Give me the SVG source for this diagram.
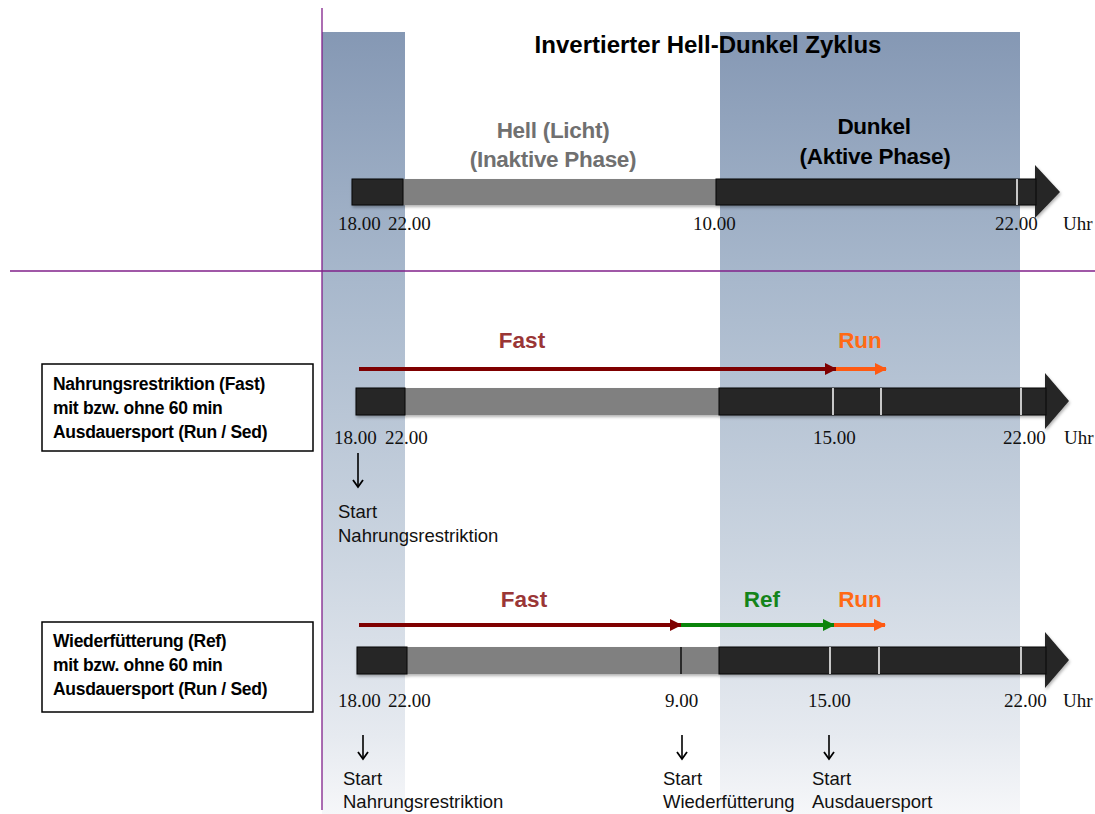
<svg xmlns="http://www.w3.org/2000/svg" width="1095" height="814" viewBox="0 0 1095 814">
<style>
.sans{font-family:"Liberation Sans",Arial,sans-serif}
.b{font-weight:bold}
.time{font-family:"Liberation Serif","Times New Roman",serif;font-size:19px;fill:#111}
.phase{font-family:"Liberation Sans",Arial,sans-serif;font-weight:bold;font-size:22.5px;text-anchor:middle;letter-spacing:-0.3px}
.box{fill:#fff;stroke:#000;stroke-width:1.5}
.boxt{font-family:"Liberation Sans",Arial,sans-serif;font-weight:bold;font-size:17.5px;fill:#000;letter-spacing:-0.3px}
.start{font-family:"Liberation Sans",Arial,sans-serif;font-size:18.5px;fill:#111}
.blk{fill:#262626;stroke:#000;stroke-width:1}
.gry{fill:#808080}
.wt{stroke:#fff;stroke-width:1.5}
.purple{stroke:#80208a;stroke-width:1.3}
.down{stroke:#000;stroke-width:1.6;fill:none;marker-end:url(#mdown)}
.lbl{font-family:"Liberation Sans",Arial,sans-serif;font-weight:bold;font-size:22.5px;text-anchor:middle}
</style>
<defs>
<linearGradient id="band" x1="0" y1="32" x2="0" y2="814" gradientUnits="userSpaceOnUse">
<stop offset="0" stop-color="#8598b4"/>
<stop offset="0.32" stop-color="#a8b8cc"/>
<stop offset="0.65" stop-color="#c9d3df"/>
<stop offset="0.9" stop-color="#e6eaf0"/>
<stop offset="1" stop-color="#f6f7f9"/>
</linearGradient>
<filter id="sh" x="-5%" y="-30%" width="110%" height="180%">
<feDropShadow dx="1" dy="2" stdDeviation="1.5" flood-color="#000" flood-opacity="0.3"/>
</filter>
<marker id="mred" markerWidth="12" markerHeight="12" refX="11" refY="6" orient="auto" markerUnits="userSpaceOnUse"><path d="M0,0 L12,6 L0,12 Z" fill="#7f0000"/></marker>
<marker id="mgreen" markerWidth="12" markerHeight="12" refX="11" refY="6" orient="auto" markerUnits="userSpaceOnUse"><path d="M0,0 L12,6 L0,12 Z" fill="#0a840a"/></marker>
<marker id="morange" markerWidth="12" markerHeight="12" refX="11" refY="6" orient="auto" markerUnits="userSpaceOnUse"><path d="M0,0 L12,6 L0,12 Z" fill="#ff5a12"/></marker>
<marker id="mdown" markerWidth="12" markerHeight="12" refX="6" refY="10" orient="0" markerUnits="userSpaceOnUse"><path d="M1,3 L6,10 L11,3" fill="none" stroke="#000" stroke-width="1.8"/></marker>
</defs>
<rect width="1095" height="814" fill="#fff"/>

<g id="bands">
<rect x="322" y="32" width="83" height="782" fill="url(#band)"/>
<rect x="720" y="32" width="300" height="782" fill="url(#band)"/>
</g>

<g id="dividers">
<line class="purple" x1="322" y1="8" x2="322" y2="810"/>
<line class="purple" x1="10" y1="271" x2="1095" y2="271"/>
</g>

<g id="title"><text class="phase" x="708" y="53" fill="#000" style="font-size:24px;letter-spacing:0">Invertierter Hell-Dunkel Zyklus</text></g>

<g id="phase-hell">
<text class="phase" x="553" y="138" fill="#707070">Hell (Licht)</text>
<text class="phase" x="553" y="167" fill="#707070">(Inaktive Phase)</text>
</g>
<g id="phase-dunkel">
<text class="phase" x="874" y="134" fill="#000">Dunkel</text>
<text class="phase" x="875" y="164" fill="#000">(Aktive Phase)</text>
</g>

<g id="timeline-1" filter="url(#sh)">
<polygon points="1030,179 1035,179 1035,165 1060,192 1035,218 1035,205 1030,205" fill="#262626"/>
<rect class="gry" x="403" y="179" width="314" height="26"/>
<rect class="blk" x="352" y="179" width="51" height="26"/>
<rect class="blk" x="716" y="179" width="320" height="26"/>
<line class="wt" x1="1017" y1="179" x2="1017" y2="205"/>
</g>
<g id="times-1">
<text class="time" x="338" y="230">18.00</text>
<text class="time" x="388" y="230">22.00</text>
<text class="time" x="693" y="230">10.00</text>
<text class="time" x="995" y="230">22.00</text>
<text class="time" x="1063" y="230">Uhr</text>
</g>

<g id="box-fast">
<rect class="box" x="42" y="364" width="271" height="87"/>
<text class="boxt" x="53" y="390">Nahrungsrestriktion (Fast)</text>
<text class="boxt" x="53" y="414">mit bzw. ohne 60 min</text>
<text class="boxt" x="53" y="438">Ausdauersport (Run / Sed)</text>
</g>

<g id="timeline-2" filter="url(#sh)">
<polygon points="1040,388 1045,388 1045,373 1069,401 1045,429 1045,415 1040,415" fill="#262626"/>
<rect class="gry" x="405" y="388" width="315" height="27"/>
<rect class="blk" x="356" y="388" width="49" height="27"/>
<rect class="blk" x="719" y="388" width="327" height="27"/>
<line class="wt" x1="833" y1="388" x2="833" y2="415"/>
<line class="wt" x1="881" y1="388" x2="881" y2="415"/>
<line class="wt" x1="1021" y1="388" x2="1021" y2="415"/>
</g>
<g id="labels-2">
<text class="lbl" x="522" y="348" fill="#9a3636">Fast</text>
<text class="lbl" x="860" y="348" fill="#ff6a14">Run</text>
</g>
<g id="times-2">
<text class="time" x="334" y="444">18.00</text>
<text class="time" x="385" y="444">22.00</text>
<text class="time" x="813" y="444">15.00</text>
<text class="time" x="1003" y="444">22.00</text>
<text class="time" x="1064" y="444">Uhr</text>
</g>
<g id="start-2">
<text class="start" x="338" y="518">Start</text>
<text class="start" x="338" y="542">Nahrungsrestriktion</text>
</g>

<g id="box-ref">
<rect class="box" x="42" y="622" width="271" height="90"/>
<text class="boxt" x="53" y="647">Wiederfütterung (Ref)</text>
<text class="boxt" x="53" y="671">mit bzw. ohne 60 min</text>
<text class="boxt" x="53" y="695">Ausdauersport (Run / Sed)</text>
</g>

<g id="timeline-3" filter="url(#sh)">
<polygon points="1040,647 1045,647 1045,632 1069,660 1045,688 1045,674 1040,674" fill="#262626"/>
<rect class="gry" x="407" y="647" width="313" height="27"/>
<rect class="blk" x="357" y="647" width="50" height="27"/>
<rect class="blk" x="719" y="647" width="327" height="27"/>
<line x1="681" y1="647" x2="681" y2="674" stroke="#111" stroke-width="1.5"/>
<line class="wt" x1="830" y1="647" x2="830" y2="674"/>
<line class="wt" x1="879" y1="647" x2="879" y2="674"/>
<line class="wt" x1="1021" y1="647" x2="1021" y2="674"/>
</g>
<g id="labels-3">
<text class="lbl" x="524" y="607" fill="#9a3636">Fast</text>
<text class="lbl" x="762" y="607" fill="#14841a">Ref</text>
<text class="lbl" x="860" y="607" fill="#ff6a14">Run</text>
</g>
<g id="times-3">
<text class="time" x="338" y="707">18.00</text>
<text class="time" x="388" y="707">22.00</text>
<text class="time" x="665" y="707">9.00</text>
<text class="time" x="808" y="707">15.00</text>
<text class="time" x="1004" y="707">22.00</text>
<text class="time" x="1063" y="707">Uhr</text>
</g>
<g id="start-3">
<text class="start" x="343" y="785">Start</text>
<text class="start" x="343" y="808">Nahrungsrestriktion</text>
<text class="start" x="663" y="785">Start</text>
<text class="start" x="663" y="808">Wiederfütterung</text>
<text class="start" x="812" y="785">Start</text>
<text class="start" x="812" y="808">Ausdauersport</text>
</g>

<g id="connectors">
<line x1="359" y1="369" x2="836" y2="369" stroke="#7f0000" stroke-width="4" marker-end="url(#mred)"/>
<line x1="836" y1="369" x2="886" y2="369" stroke="#ff5a12" stroke-width="4" marker-end="url(#morange)"/>
<line x1="359" y1="625" x2="681" y2="625" stroke="#7f0000" stroke-width="4" marker-end="url(#mred)"/>
<line x1="681" y1="625" x2="834" y2="625" stroke="#0a840a" stroke-width="4" marker-end="url(#mgreen)"/>
<line x1="834" y1="625" x2="885" y2="625" stroke="#ff5a12" stroke-width="4" marker-end="url(#morange)"/>
<line class="down" x1="358" y1="453" x2="358" y2="487"/>
<line class="down" x1="363" y1="735" x2="363" y2="759"/>
<line class="down" x1="682" y1="735" x2="682" y2="759"/>
<line class="down" x1="829" y1="735" x2="829" y2="759"/>
</g>
</svg>
